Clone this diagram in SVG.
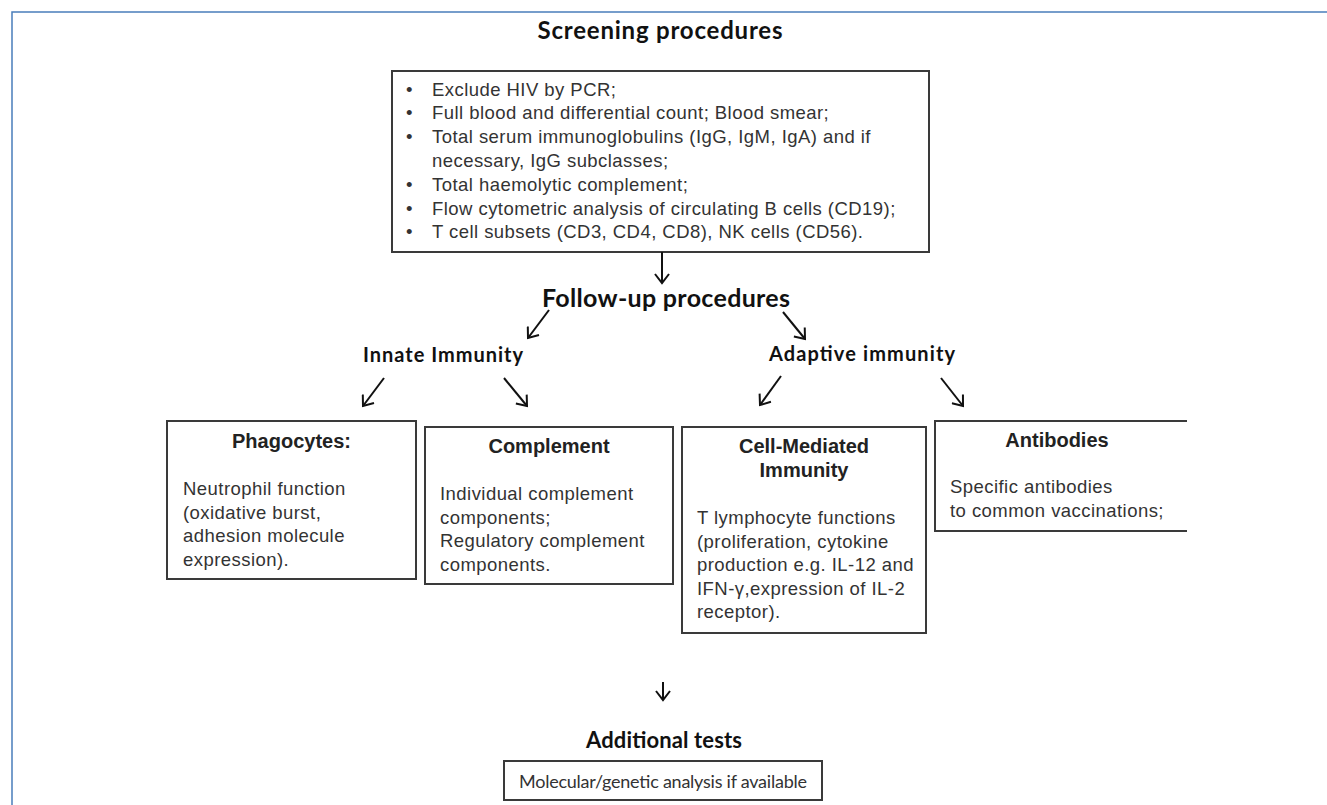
<svg xmlns="http://www.w3.org/2000/svg" width="1327" height="805" viewBox="0 0 1327 805">
<defs>
<style>
.frame{stroke:#4a7ebb;stroke-width:1.5;fill:none}
.box{fill:#fff;stroke:#3a3a3a;stroke-width:2}
.h{font-family:Lato,"Open Sans",sans-serif;font-weight:bold;fill:#111}
.t{font-family:"Liberation Sans",Arial,sans-serif;font-size:18.5px;letter-spacing:0.45px;fill:#333;white-space:pre}
.tb{font-family:"Liberation Sans",Arial,sans-serif;font-size:20px;font-weight:bold;fill:#222;text-anchor:middle}
.arr{stroke:#111;stroke-width:2;fill:none;marker-end:url(#ah)}
</style>
<marker id="ah" markerUnits="userSpaceOnUse" markerWidth="16" markerHeight="16" refX="12" refY="8" orient="auto">
<path d="M3,1 L12,8 L3,15" fill="none" stroke="#111" stroke-width="2"/>
</marker>
</defs>
<rect width="1327" height="805" fill="#fff"/>
<path class="frame" d="M12,805 V12 H1327"/>

<g id="title">
<text class="h" x="660" y="39" font-size="24" text-anchor="middle" textLength="245">Screening procedures</text>
</g>

<g id="screening">
<rect class="box" x="392" y="71" width="537" height="181"/>
<g class="t">
<text x="406" y="95.5">•</text><text x="432" y="95.5">Exclude HIV  by PCR;</text>
<text x="406" y="119.3">•</text><text x="432" y="119.3">Full blood and differential count; Blood smear;</text>
<text x="406" y="143.1">•</text><text x="432" y="143.1">Total serum immunoglobulins  (IgG, IgM, IgA) and if</text>
<text x="432" y="166.9">necessary, IgG subclasses;</text>
<text x="406" y="190.7">•</text><text x="432" y="190.7">Total haemolytic complement;</text>
<text x="406" y="214.5">•</text><text x="432" y="214.5">Flow cytometric analysis of circulating B cells (CD19);</text>
<text x="406" y="238.3">•</text><text x="432" y="238.3">T cell subsets (CD3, CD4, CD8), NK cells (CD56).</text>
</g>
</g>

<g id="followup">
<text class="h" x="666" y="307" font-size="25" text-anchor="middle" textLength="248">Follow-up procedures</text>
</g>

<g id="innate">
<text class="h" x="443" y="362" font-size="20" text-anchor="middle" textLength="160">Innate Immunity</text>
</g>

<g id="adaptive">
<text class="h" x="862" y="361" font-size="20" text-anchor="middle" textLength="186">Adaptive immunity</text>
</g>

<g id="phagocytes">
<rect class="box" x="167" y="421" width="249" height="158"/>
<text class="tb" x="291.5" y="448">Phagocytes:</text>
<g class="t">
<text x="183" y="495">Neutrophil function</text>
<text x="183" y="518.5">(oxidative burst,</text>
<text x="183" y="542">adhesion molecule</text>
<text x="183" y="565.5">expression).</text>
</g>
</g>

<g id="complement">
<rect class="box" x="425" y="427" width="248" height="157"/>
<text class="tb" x="549" y="453">Complement</text>
<g class="t">
<text x="440" y="500">Individual complement</text>
<text x="440" y="523.5">components;</text>
<text x="440" y="547">Regulatory complement</text>
<text x="440" y="570.5">components.</text>
</g>
</g>

<g id="cellmediated">
<rect class="box" x="682" y="427" width="244" height="206"/>
<text class="tb" x="804" y="452.5">Cell-Mediated</text>
<text class="tb" x="804" y="476.5">Immunity</text>
<g class="t">
<text x="697" y="524">T lymphocyte functions</text>
<text x="697" y="547.5">(proliferation, cytokine</text>
<text x="697" y="571">production e.g. IL-12 and</text>
<text x="697" y="594.5">IFN-γ,expression of IL-2</text>
<text x="697" y="618">receptor).</text>
</g>
</g>

<g id="antibodies">
<path class="box" d="M1187,421 H935 V531 H1187" fill="#fff"/>
<text class="tb" x="1057" y="446.5">Antibodies</text>
<g class="t">
<text x="950" y="493">Specific antibodies</text>
<text x="950" y="516.5">to common  vaccinations;</text>
</g>
</g>

<g id="additional">
<text class="h" x="664" y="748" font-size="22" text-anchor="middle" textLength="156">Additional tests</text>
</g>

<g id="molecular">
<rect class="box" x="504" y="761" width="318" height="39"/>
<text x="663" y="788" text-anchor="middle" font-family="Lato,'Open Sans',sans-serif" font-size="18" fill="#333" textLength="288">Molecular/genetic analysis if available</text>
</g>

<g id="connectors">
<line class="arr" x1="662" y1="252" x2="662" y2="283"/>
<line class="arr" x1="549" y1="310" x2="528" y2="338"/>
<line class="arr" x1="783" y1="312" x2="805" y2="339"/>
<line class="arr" x1="384" y1="378" x2="363" y2="406"/>
<line class="arr" x1="504" y1="378" x2="527" y2="406"/>
<line class="arr" x1="781" y1="376" x2="760" y2="405"/>
<line class="arr" x1="941" y1="378" x2="963" y2="406"/>
<line class="arr" x1="663" y1="682" x2="663" y2="700"/>
</g>
</svg>
